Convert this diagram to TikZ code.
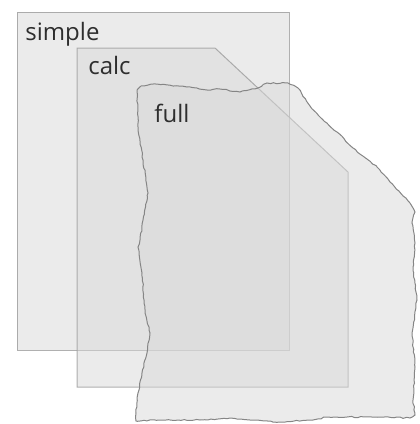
\documentclass[tikz,border=0pt]{standalone}
\usepackage{fontspec}
\setmainfont{Open Sans}
\usetikzlibrary{decorations.pathmorphing}
\definecolor{sheet}{HTML}{D8D8D8}
\definecolor{edge}{HTML}{9C9C9C}
\definecolor{tornedge}{HTML}{858585}
\definecolor{ink}{HTML}{2E2E2E}

\begin{document}
\begin{tikzpicture}[
  x=0.5pt, y=-0.5pt,
  sheetbox/.style={draw=edge, fill=sheet, fill opacity=0.5, draw opacity=0.8, line width=0.5pt},
  torn/.style={draw=tornedge, fill=sheet, fill opacity=0.5, line width=0.5pt,
               decorate, decoration={random steps, segment length=1.6pt, amplitude=0.3pt}},
  tag/.style={anchor=base west, text=ink, font=\fontsize{12}{14}\selectfont, inner sep=0pt}
]
\useasboundingbox (0,0) rectangle (419,424);
\pgfmathsetseed{7}
% simple
\draw[sheetbox] (17,12) rectangle (289,350);
\node[tag] (simple) at (25,40) {simple};
% calc, one corner cut off
\draw[sheetbox] (77,48) -- (215,48) -- (348,172) -- (348,387) -- (77,387) -- cycle;
\node[tag] (calc) at (88,74) {calc};
% full, torn edges
\begin{scope}
\clip (0,0) rectangle (419,424);
\draw[torn] (137,90) -- (141,86) -- (157,84) -- (187,87) -- (207,90) -- (220,89) -- (240,92)
  -- (258,88) -- (267,83) -- (288,83) -- (298,88) -- (310,106) -- (320,117)
  -- (337,132) -- (353,148) -- (377,167) -- (390,182) -- (410,203) -- (415,212)
  -- (412,223) -- (415,243) -- (413,267) -- (417,300) -- (412,333) -- (415,367)
  -- (413,400) -- (415,415) -- (410,418) -- (380,417) -- (347,417) -- (327,417)
  -- (313,420) -- (280,422) -- (250,420) -- (230,418) -- (200,420) -- (160,420)
  -- (136,421) -- (136,413) -- (138,393) -- (142,373) -- (147,353) -- (150,333)
  -- (145,313) -- (142,273) -- (138,247) -- (140,240) -- (143,220) -- (148,193)
  -- (143,160) -- (138,127) -- cycle;
\end{scope}
\node[tag] (full) at (154,122) {full};
\end{tikzpicture}
\end{document}
